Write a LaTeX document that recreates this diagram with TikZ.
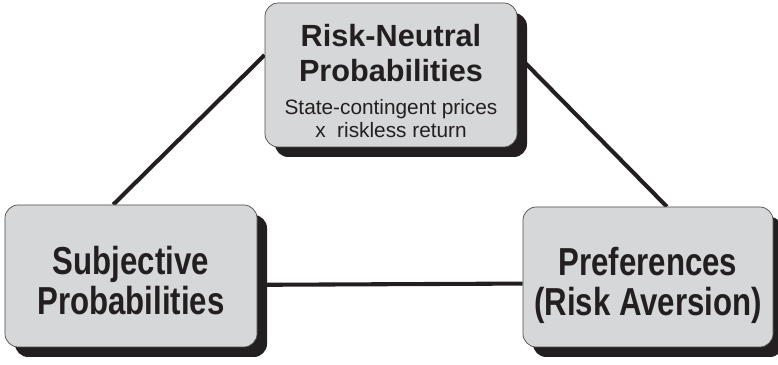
\documentclass[tikz,border=0pt]{standalone}
\usepackage{fontspec}
\setmainfont{Liberation Sans}
\usepackage{graphicx}
\usepackage{tikz}
\usetikzlibrary{shadows}
\usetikzlibrary{backgrounds}
\definecolor{boxgray}{HTML}{D6D7D9}
\definecolor{inkdark}{HTML}{231F20}
\tikzstyle{probbox} = [draw=inkdark!80, line width=0.5pt, fill=boxgray, rounded corners=0.33cm, text=inkdark, align=center, inner sep=0pt, drop shadow={shadow xshift=0.25cm, shadow yshift=-0.25cm, fill=inkdark, opacity=1}]
\tikzstyle{link} = [draw=inkdark, line width=2.9pt]
\newcommand{\lowered}[1]{\raisebox{-0.25cm}[\height][\depth]{#1}}
\newcommand{\tallbold}[1]{\lowered{\scalebox{1}[1.25]{\bfseries\fontsize{22.2}{21.6}\selectfont\begin{tabular}{@{}c@{}}#1\end{tabular}}}}

\begin{document}
\begin{tikzpicture}
    \useasboundingbox (0,0) rectangle (19.45,9.125);

    \node[probbox, minimum width=6.3cm, minimum height=3.6cm] (riskneutral) at (9.775,7.25) {\lowered{\fontsize{21.8}{24.9}\selectfont\begin{tabular}{@{}c@{}}
        \bfseries Risk-Neutral\\
        \bfseries Probabilities\\[-1.4pt]
        \fontsize{14.8}{16.4}\selectfont State-contingent prices\\[-8.5pt]
        \fontsize{14.8}{16.4}\selectfont x\ \ riskless return
    \end{tabular}}};
    \node[probbox, minimum width=6.3cm, minimum height=3.55cm] (subjective) at (3.275,2.225) {\tallbold{Subjective\\Probabilities}};
    \node[probbox, minimum width=6.25cm, minimum height=3.5cm] (preferences) at (16.2,2.2) {\tallbold{Preferences\\(Risk Aversion)}};

    \begin{scope}[on background layer]
        \draw[link] (riskneutral.171) -- (subjective.104);
        \draw[link] (riskneutral.9.5) -- (preferences.75);
        \draw[link] (subjective.-4) -- (preferences.183.7);
    \end{scope}
\end{tikzpicture}
\end{document}
